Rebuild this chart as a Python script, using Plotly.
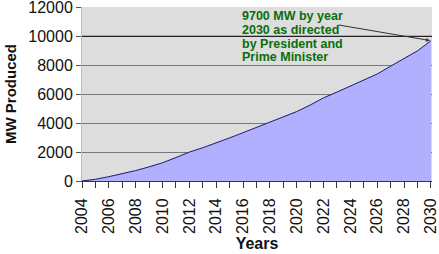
import plotly.graph_objects as go

years = list(range(2004, 2031))
mw_produced = [0, 120, 300, 500, 720, 980, 1260, 1620, 2000, 2300, 2620, 2980,
               3340, 3700, 4060, 4430, 4800, 5250, 5750, 6150, 6560, 6980,
               7400, 7940, 8480, 9000, 9700]
x_tick_labels = [str(y) for y in range(2004, 2031, 2)]
y_tick_values = list(range(0, 12001, 2000))
y_tick_labels = [str(v) for v in y_tick_values]
note_lines = ["9700 MW by year", "2030 as directed", "by President and", "Prime Minister"]

fig = go.Figure()
fig.add_trace(go.Scatter(
    x=years, y=mw_produced, mode="lines", fill="tozeroy",
    line=dict(color="#1a1a6e", width=1),
    fillcolor="#b0b0ff", hoverinfo="skip", showlegend=False))

font = "Liberation Sans, Arial, sans-serif"
fig.update_layout(
    width=439, height=254,
    margin=dict(l=82, r=7, t=7, b=73),
    paper_bgcolor="white", plot_bgcolor="#dddddd",
    font=dict(family=font, color="#111111"),
    xaxis=dict(
        range=[2004, 2030.08], tickmode="array",
        tickvals=list(range(2004, 2031, 2)), ticktext=x_tick_labels,
        tickangle=-90, tickfont=dict(size=16),
        ticks="outside", ticklen=6, tickcolor="#333333",
        ticklabelstandoff=4, ticklabeloverflow="allow", automargin=False,
        minor=dict(dtick=1, ticks="outside", ticklen=6, tickcolor="#333333", showgrid=False),
        showgrid=False, showline=True, linecolor="#333366", linewidth=1,
        zeroline=False,
        title=dict(text="<b>Years</b>", font=dict(size=16), standoff=4),
    ),
    yaxis=dict(
        range=[0, 12030], tickmode="array", tickvals=y_tick_values, ticktext=y_tick_labels,
        tickfont=dict(size=16), ticks="outside", ticklen=5, tickcolor="#555555",
        ticklabeloverflow="allow", automargin=False,
        showgrid=True, gridcolor="#777777", gridwidth=1,
        showline=True, linecolor="#bbbbbb", zeroline=False,
        title=dict(text="<b>MW Produced</b>", font=dict(size=15), standoff=8),
    ),
)

fig.add_hline(y=10000, line=dict(color="#222222", width=1.2), layer="above")

fig.add_annotation(
    x=years[-1], y=mw_produced[-1], xref="x", yref="y",
    ax=-94, ay=-16, axref="pixel", ayref="pixel",
    text="", showarrow=True, arrowhead=2, arrowsize=0.8,
    arrowwidth=1, arrowcolor="#333333", standoff=1)

note_y = [0.948, 0.868, 0.790, 0.713]
for line, yy in zip(note_lines, note_y):
    fig.add_annotation(
        xref="paper", yref="paper", x=0.451, y=yy, xanchor="left", yanchor="middle",
        text="<b>" + line + "</b>", showarrow=False, align="left",
        font=dict(size=12.5, color="#0a6e0a", family=font))

fig.write_html("out.html")
